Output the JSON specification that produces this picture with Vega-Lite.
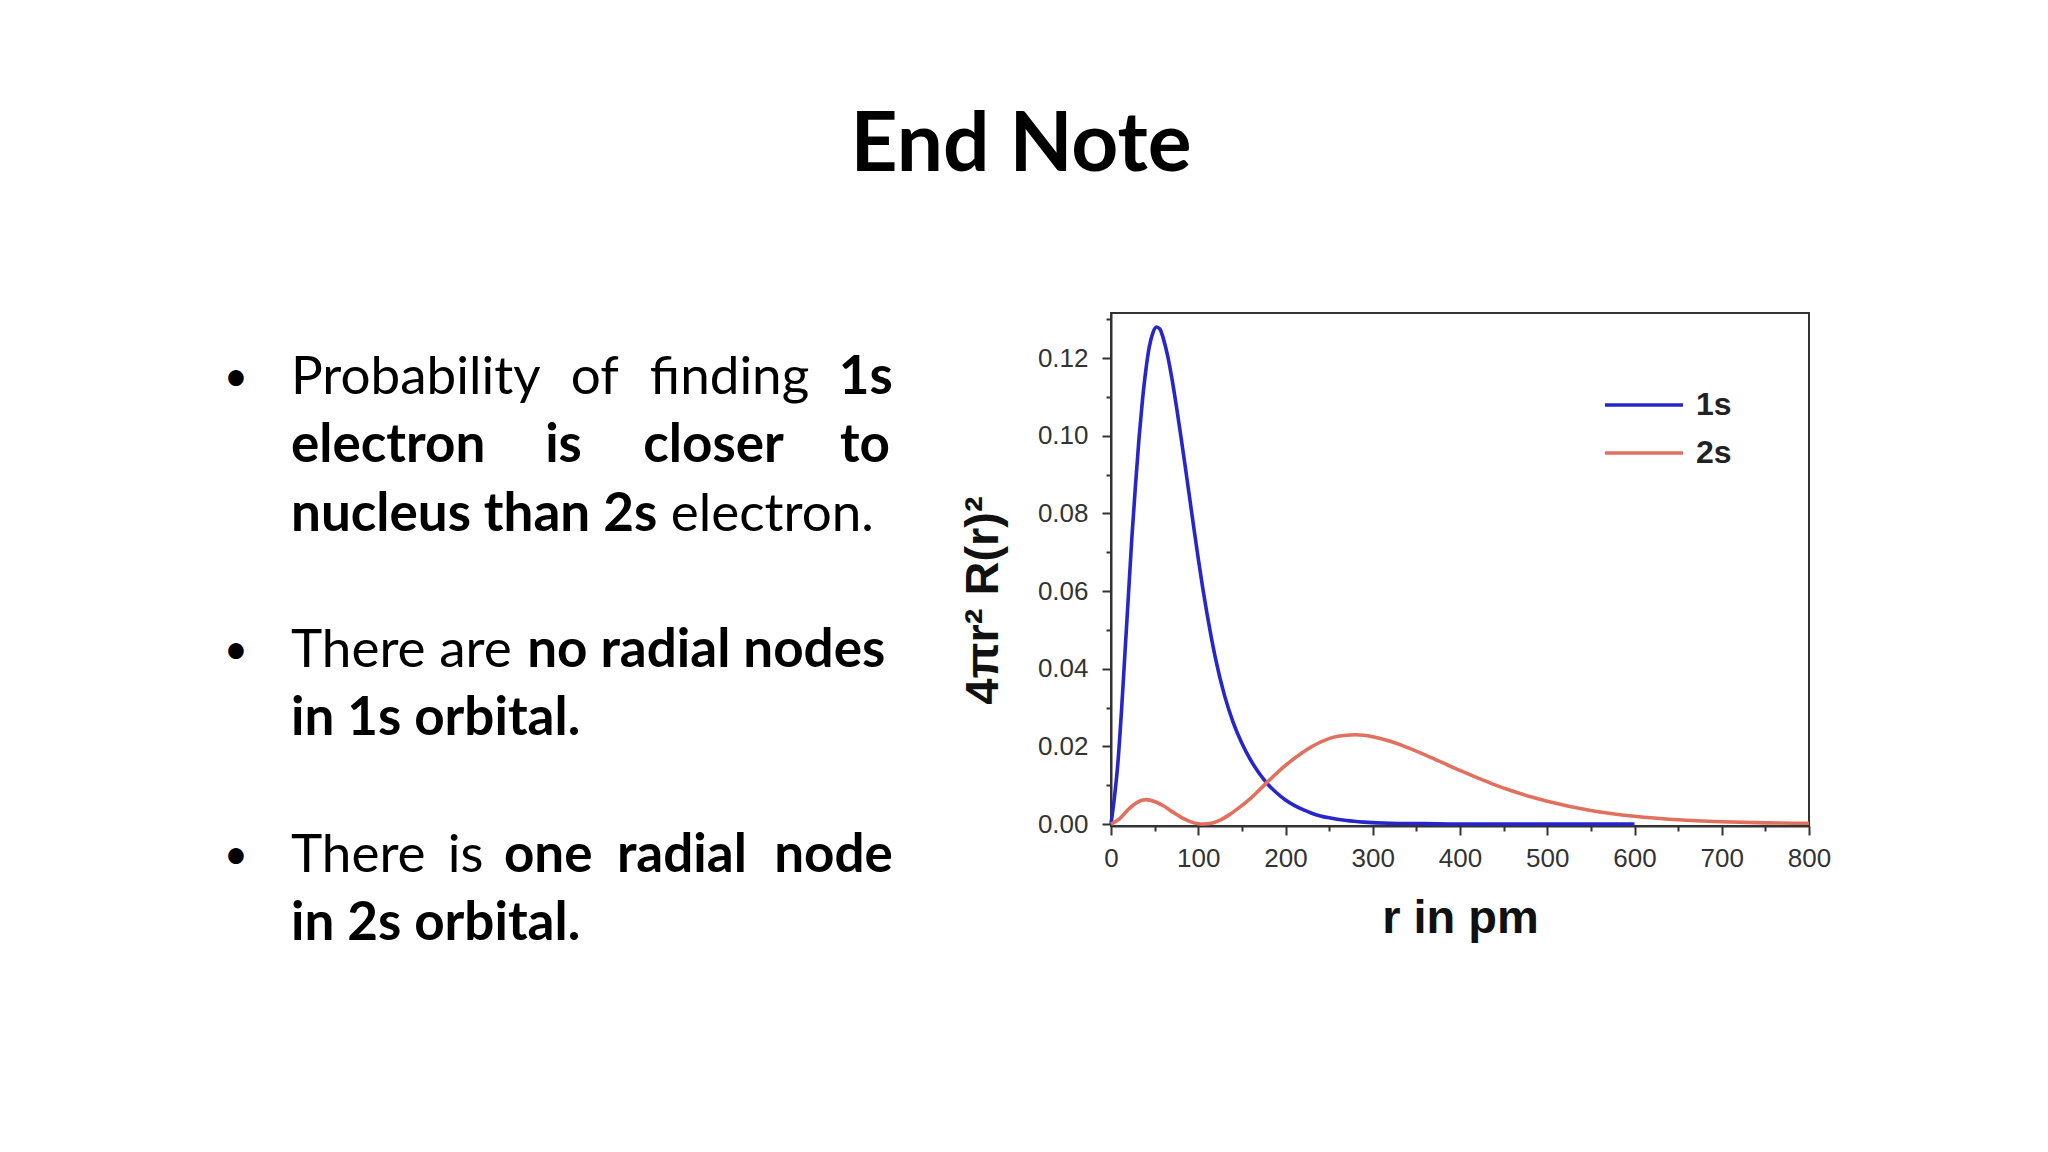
{
  "$schema": "https://vega.github.io/schema/vega-lite/v6.json",
  "width": 698,
  "height": 513,
  "autosize": {"type": "none"},
  "padding": {"left": 1111, "top": 313, "right": 239, "bottom": 326},
  "background": "white",
  "title": {
    "text": "End Note",
    "font": "Lato",
    "fontSize": 82,
    "fontWeight": "bold",
    "color": "#000000",
    "anchor": "middle",
    "frame": "group",
    "dx": -439,
    "offset": 60,
    "baseline": "alphabetic"
  },
  "config": {
    "view": {"stroke": "#333333", "strokeWidth": 2},
    "axis": {
      "grid": false,
      "domainColor": "#333333",
      "domainWidth": 2,
      "tickColor": "#333333",
      "tickWidth": 2,
      "labelFont": "Liberation Sans",
      "labelFontSize": 26,
      "labelColor": "#333333",
      "labelFlush": false,
      "labelOverlap": false,
      "titleFont": "Liberation Sans",
      "titleFontSize": 47,
      "titleFontWeight": "bold",
      "titleColor": "#111111"
    }
  },
  "datasets": {
    "curves": [
      {"r": 0, "p": 0, "orbital": "1s"},
      {"r": 4, "p": 0.007, "orbital": "1s"},
      {"r": 8, "p": 0.016, "orbital": "1s"},
      {"r": 12, "p": 0.029, "orbital": "1s"},
      {"r": 16, "p": 0.044, "orbital": "1s"},
      {"r": 20, "p": 0.059, "orbital": "1s"},
      {"r": 24, "p": 0.074, "orbital": "1s"},
      {"r": 28, "p": 0.087, "orbital": "1s"},
      {"r": 32, "p": 0.099, "orbital": "1s"},
      {"r": 36, "p": 0.109, "orbital": "1s"},
      {"r": 40, "p": 0.117, "orbital": "1s"},
      {"r": 44, "p": 0.123, "orbital": "1s"},
      {"r": 48, "p": 0.1265, "orbital": "1s"},
      {"r": 52, "p": 0.128, "orbital": "1s"},
      {"r": 56, "p": 0.1275, "orbital": "1s"},
      {"r": 60, "p": 0.125, "orbital": "1s"},
      {"r": 65, "p": 0.1205, "orbital": "1s"},
      {"r": 70, "p": 0.1145, "orbital": "1s"},
      {"r": 75, "p": 0.1075, "orbital": "1s"},
      {"r": 80, "p": 0.1, "orbital": "1s"},
      {"r": 85, "p": 0.0922, "orbital": "1s"},
      {"r": 90, "p": 0.0842, "orbital": "1s"},
      {"r": 95, "p": 0.0762, "orbital": "1s"},
      {"r": 100, "p": 0.0684, "orbital": "1s"},
      {"r": 105, "p": 0.061, "orbital": "1s"},
      {"r": 110, "p": 0.0542, "orbital": "1s"},
      {"r": 115, "p": 0.048, "orbital": "1s"},
      {"r": 120, "p": 0.0424, "orbital": "1s"},
      {"r": 130, "p": 0.0332, "orbital": "1s"},
      {"r": 140, "p": 0.0262, "orbital": "1s"},
      {"r": 150, "p": 0.0208, "orbital": "1s"},
      {"r": 160, "p": 0.0165, "orbital": "1s"},
      {"r": 170, "p": 0.013, "orbital": "1s"},
      {"r": 180, "p": 0.0102, "orbital": "1s"},
      {"r": 190, "p": 0.008, "orbital": "1s"},
      {"r": 200, "p": 0.0062, "orbital": "1s"},
      {"r": 210, "p": 0.0048, "orbital": "1s"},
      {"r": 220, "p": 0.0037, "orbital": "1s"},
      {"r": 230, "p": 0.0028, "orbital": "1s"},
      {"r": 240, "p": 0.0021, "orbital": "1s"},
      {"r": 250, "p": 0.0016, "orbital": "1s"},
      {"r": 270, "p": 0.0009, "orbital": "1s"},
      {"r": 290, "p": 0.0005, "orbital": "1s"},
      {"r": 320, "p": 0.0002, "orbital": "1s"},
      {"r": 360, "p": 0.0001, "orbital": "1s"},
      {"r": 400, "p": 0, "orbital": "1s"},
      {"r": 500, "p": 0, "orbital": "1s"},
      {"r": 600, "p": 0, "orbital": "1s"},
      {"r": 0, "p": 0, "orbital": "2s"},
      {"r": 10, "p": 0.0014, "orbital": "2s"},
      {"r": 20, "p": 0.0038, "orbital": "2s"},
      {"r": 30, "p": 0.0056, "orbital": "2s"},
      {"r": 40, "p": 0.0063, "orbital": "2s"},
      {"r": 50, "p": 0.0058, "orbital": "2s"},
      {"r": 60, "p": 0.0047, "orbital": "2s"},
      {"r": 70, "p": 0.0032, "orbital": "2s"},
      {"r": 80, "p": 0.0018, "orbital": "2s"},
      {"r": 90, "p": 0.0007, "orbital": "2s"},
      {"r": 100, "p": 0.0001, "orbital": "2s"},
      {"r": 106, "p": 0, "orbital": "2s"},
      {"r": 115, "p": 0.0002, "orbital": "2s"},
      {"r": 125, "p": 0.001, "orbital": "2s"},
      {"r": 135, "p": 0.0023, "orbital": "2s"},
      {"r": 145, "p": 0.0039, "orbital": "2s"},
      {"r": 160, "p": 0.0066, "orbital": "2s"},
      {"r": 180, "p": 0.011, "orbital": "2s"},
      {"r": 200, "p": 0.0151, "orbital": "2s"},
      {"r": 220, "p": 0.0185, "orbital": "2s"},
      {"r": 240, "p": 0.0211, "orbital": "2s"},
      {"r": 260, "p": 0.0226, "orbital": "2s"},
      {"r": 280, "p": 0.023, "orbital": "2s"},
      {"r": 300, "p": 0.0225, "orbital": "2s"},
      {"r": 320, "p": 0.0213, "orbital": "2s"},
      {"r": 340, "p": 0.0197, "orbital": "2s"},
      {"r": 360, "p": 0.0178, "orbital": "2s"},
      {"r": 380, "p": 0.0158, "orbital": "2s"},
      {"r": 400, "p": 0.0138, "orbital": "2s"},
      {"r": 420, "p": 0.0119, "orbital": "2s"},
      {"r": 440, "p": 0.0101, "orbital": "2s"},
      {"r": 460, "p": 0.0085, "orbital": "2s"},
      {"r": 480, "p": 0.0071, "orbital": "2s"},
      {"r": 500, "p": 0.0059, "orbital": "2s"},
      {"r": 550, "p": 0.0035, "orbital": "2s"},
      {"r": 600, "p": 0.002, "orbital": "2s"},
      {"r": 650, "p": 0.0011, "orbital": "2s"},
      {"r": 700, "p": 0.0006, "orbital": "2s"},
      {"r": 750, "p": 0.0003, "orbital": "2s"},
      {"r": 800, "p": 0.0002, "orbital": "2s"}
    ],
    "notes": [
      {"row": 0, "col": -0.092, "text": "•", "emph": false},
      {"row": 0, "col": 0, "text": "Probability", "emph": false},
      {"row": 0, "col": 0.468, "text": "of", "emph": false},
      {"row": 0, "col": 0.6, "text": "finding", "emph": false},
      {"row": 0, "col": 0.916, "text": "1s", "emph": true},
      {"row": 1, "col": 0, "text": "electron", "emph": true},
      {"row": 1, "col": 0.425, "text": "is", "emph": true},
      {"row": 1, "col": 0.589, "text": "closer", "emph": true},
      {"row": 1, "col": 0.918, "text": "to", "emph": true},
      {"row": 2, "col": 0, "text": "nucleus than 2s", "emph": true},
      {"row": 2, "col": 0.635, "text": "electron.", "emph": false},
      {"row": 4, "col": -0.092, "text": "•", "emph": false},
      {"row": 4, "col": 0, "text": "There are", "emph": false},
      {"row": 4, "col": 0.395, "text": "no radial nodes", "emph": true},
      {"row": 5, "col": 0, "text": "in 1s orbital.", "emph": true},
      {"row": 7, "col": -0.092, "text": "•", "emph": false},
      {"row": 7, "col": 0, "text": "There", "emph": false},
      {"row": 7, "col": 0.262, "text": "is", "emph": false},
      {"row": 7, "col": 0.356, "text": "one", "emph": true},
      {"row": 7, "col": 0.545, "text": "radial", "emph": true},
      {"row": 7, "col": 0.808, "text": "node", "emph": true},
      {"row": 8, "col": 0, "text": "in 2s orbital.", "emph": true}
    ]
  },
  "layer": [
    {
      "data": {"name": "curves"},
      "mark": {"type": "point", "opacity": 0},
      "encoding": {
        "x": {
          "field": "r", "type": "quantitative",
          "scale": {"domain": [0, 800], "nice": false, "zero": false},
          "axis": {"orient": "bottom", "values": [50, 150, 250, 350, 450, 550, 650, 750], "labels": false, "tickSize": 5, "domain": false, "title": null}
        },
        "y": {
          "field": "p", "type": "quantitative",
          "scale": {"domain": [-0.0005, 0.1316], "nice": false, "zero": false},
          "axis": {"orient": "left", "values": [0.01, 0.03, 0.05, 0.07, 0.09, 0.11, 0.13], "labels": false, "tickSize": 5, "domain": false, "title": null}
        }
      }
    },
    {
      "data": {"name": "curves"},
      "mark": {"type": "line", "strokeWidth": 3.6, "interpolate": "monotone"},
      "encoding": {
        "x": {
          "field": "r", "type": "quantitative",
          "scale": {"domain": [0, 800], "nice": false, "zero": false},
          "axis": {
            "orient": "bottom",
            "values": [0, 100, 200, 300, 400, 500, 600, 700, 800],
            "tickSize": 9,
            "labelBaseline": "alphabetic",
            "labelPadding": 31,
            "title": "r in pm",
            "titleBaseline": "alphabetic",
            "titleY": 106
          }
        },
        "y": {
          "field": "p", "type": "quantitative",
          "scale": {"domain": [-0.0005, 0.1316], "nice": false, "zero": false},
          "axis": {
            "orient": "left",
            "values": [0, 0.02, 0.04, 0.06, 0.08, 0.1, 0.12],
            "format": ".2f",
            "tickSize": 9,
            "labelPadding": 14,
            "title": "4πr² R(r)²",
            "titleBaseline": "middle",
            "titleX": -128,
            "titleY": 287
          }
        },
        "color": {
          "field": "orbital", "type": "nominal",
          "scale": {"domain": ["1s", "2s"], "range": ["#2626cc", "#e2705e"]},
          "legend": {
            "orient": "none",
            "legendX": 501,
            "legendY": 60,
            "title": null,
            "symbolType": "M-1.3,0H1.3",
            "symbolSize": 3600,
            "symbolStrokeWidth": 3.6,
            "labelFont": "Liberation Sans",
            "labelFontSize": 32,
            "labelFontWeight": "bold",
            "labelColor": "#222222",
            "labelOffset": 20,
            "rowPadding": 0
          }
        }
      }
    },
    {
      "data": {"name": "notes"},
      "transform": [{"filter": "datum.text === '•'"}],
      "mark": {"type": "text", "align": "center", "baseline": "alphabetic", "font": "Lato", "fontSize": 42, "color": "#000000", "dy": -3},
      "encoding": {
        "x": {"field": "col", "type": "quantitative", "scale": {"domain": [0, 1], "range": [-820, -222], "zero": false, "nice": false}, "axis": null},
        "y": {"field": "row", "type": "quantitative", "scale": {"domain": [0, 8], "range": [81, 627], "zero": false, "nice": false}, "axis": null},
        "text": {"field": "text"}
      }
    },
    {
      "data": {"name": "notes"},
      "transform": [{"filter": "datum.text !== '•' && !datum.emph"}],
      "mark": {"type": "text", "align": "left", "baseline": "alphabetic", "font": "Lato", "fontSize": 53, "fontWeight": "normal", "color": "#000000"},
      "encoding": {
        "x": {"field": "col", "type": "quantitative", "scale": {"domain": [0, 1], "range": [-820, -222], "zero": false, "nice": false}, "axis": null},
        "y": {"field": "row", "type": "quantitative", "scale": {"domain": [0, 8], "range": [81, 627], "zero": false, "nice": false}, "axis": null},
        "text": {"field": "text"}
      }
    },
    {
      "data": {"name": "notes"},
      "transform": [{"filter": "datum.emph"}],
      "mark": {"type": "text", "align": "left", "baseline": "alphabetic", "font": "Lato", "fontSize": 53, "fontWeight": "bold", "color": "#000000"},
      "encoding": {
        "x": {"field": "col", "type": "quantitative", "scale": {"domain": [0, 1], "range": [-820, -222], "zero": false, "nice": false}, "axis": null},
        "y": {"field": "row", "type": "quantitative", "scale": {"domain": [0, 8], "range": [81, 627], "zero": false, "nice": false}, "axis": null},
        "text": {"field": "text"}
      }
    }
  ],
  "resolve": {
    "scale": {"x": "independent", "y": "independent"},
    "axis": {"x": "independent", "y": "independent"}
  }
}
